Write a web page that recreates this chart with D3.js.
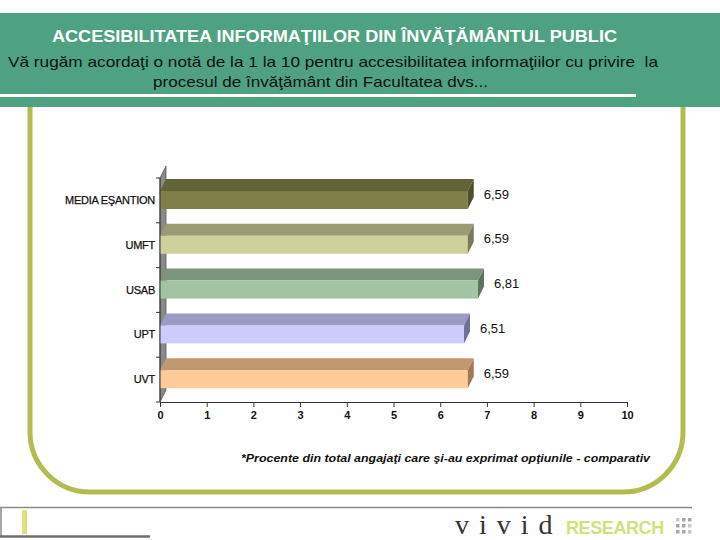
<!DOCTYPE html>
<html><head><meta charset="utf-8">
<script src="https://cdn.jsdelivr.net/npm/d3@7"></script>
<style>body{margin:0;background:#fff}svg{display:block}</style>
</head><body>
<svg id="chart" width="720" height="540"></svg>
<script>
const categories = ["MEDIA EŞANTION", "UMFT", "USAB", "UPT", "UVT"];
const values = [6.59, 6.59, 6.81, 6.51, 6.59];
const tickValues = [0,1,2,3,4,5,6,7,8,9,10];
const frontColors = ["#7f7f45", "#cfcf9b", "#a3c4a3", "#ccccfb", "#ffcc99"];
const topColors   = ["#636339", "#9a9a74", "#7b947b", "#9a9ac2", "#c29872"];
const sideColors  = ["#4e4f2c", "#7a7a58", "#5e745e", "#6f6f96", "#a07a58"];
const title = "ACCESIBILITATEA INFORMAŢIILOR DIN ÎNVĂŢĂMÂNTUL PUBLIC";
const subtitle1 = "Vă rugăm acordaţi o notă de la 1 la 10 pentru accesibilitatea informaţiilor cu privire  la";
const subtitle2 = "procesul de învăţământ din Facultatea dvs...";
const footnote = "*Procente din total angajaţi care şi-au exprimat opţiunile - comparativ";

const svg = d3.select("#chart");
const F = "Arial, 'Liberation Sans', sans-serif";

// header band
svg.append("rect").attr("x",0).attr("y",13).attr("width",720).attr("height",94).attr("fill","#4ea282");
svg.append("rect").attr("x",0).attr("y",94).attr("width",636).attr("height",3).attr("fill","#ffffff");
svg.append("text").attr("x",52).attr("y",42).attr("textLength",565).attr("lengthAdjust","spacingAndGlyphs")
  .attr("font-family",F).attr("font-size",16).attr("font-weight","bold").attr("fill","#fff").text(title);
svg.append("text").attr("x",8).attr("y",67).attr("textLength",650).attr("lengthAdjust","spacingAndGlyphs")
  .attr("font-family",F).attr("font-size",15).attr("fill","#111").style("white-space","pre").text(subtitle1);
svg.append("text").attr("x",153).attr("y",87).attr("textLength",335).attr("lengthAdjust","spacingAndGlyphs")
  .attr("font-family",F).attr("font-size",15).attr("fill","#111").text(subtitle2);

// frame
svg.append("path").attr("d","M30,107 V432 A60,60 0 0 0 90,492 H623 A60,60 0 0 0 683,432 V107")
  .attr("fill","none").attr("stroke","#b4bc50").attr("stroke-width",5);

// scales
const x = d3.scaleLinear().domain([0,10]).range([160,627]);
const y = d3.scaleBand().domain(categories).range([178,402]).padding(0);
const dx = 6, dy = 12, fh = 18, off = 13;

// wall
const g = svg.append("g");
g.append("polygon").attr("points",[[x(0),402],[x(0)+dx,402-dy],[x(0)+dx,178-dy],[x(0),178]].map(p=>p.join(",")).join(" "))
  .attr("fill","#8a8a8a").attr("stroke","#555").attr("stroke-width",0.8);

// bars
const bars = g.selectAll("g.bar").data(categories).enter().append("g");
bars.each(function(c,i){
  const sel = d3.select(this);
  const x0 = x(0), x1 = x(values[i]);
  const ft = y(c) + off;
  const pts = a => a.map(p=>p.join(",")).join(" ");
  sel.append("polygon").attr("points",pts([[x0,ft],[x0+dx,ft-dy],[x1+dx,ft-dy],[x1,ft]])).attr("fill",topColors[i]);
  sel.append("rect").attr("x",x0).attr("y",ft).attr("width",x1-x0).attr("height",fh).attr("fill",frontColors[i]);
  sel.append("polygon").attr("points",pts([[x1,ft],[x1+dx,ft-dy],[x1+dx,ft+fh-dy],[x1,ft+fh]])).attr("fill",sideColors[i]);
});

// value labels
const fmt = d3.formatLocale({decimal:",", thousands:".", grouping:[3], currency:["","€"]}).format(".2f");
g.selectAll("text.val").data(categories).enter().append("text")
  .attr("x",(c,i)=>x(values[i])+dx+10).attr("y",c=>y(c)+off+7.5)
  .attr("font-family",F).attr("font-size",13).attr("fill","#111")
  .text((c,i)=>fmt(values[i]));

// category labels
g.selectAll("text.cat").data(categories).enter().append("text")
  .attr("x",155).attr("y",c=>y(c)+off+fh/2+4).attr("text-anchor","end")
  .attr("font-family",F).attr("font-size",11).attr("letter-spacing",-0.25).attr("fill","#111")
  .attr("stroke","#111").attr("stroke-width",0.25)
  .text(c=>c);

// y axis line and ticks at band boundaries
const bounds = categories.map(c=>y(c)).concat([402]);
g.append("line").attr("x1",x(0)).attr("x2",x(0)).attr("y1",178).attr("y2",402).attr("stroke","#333").attr("stroke-width",1);
g.selectAll("line.yt").data(bounds).enter().append("line")
  .attr("x1",x(0)-4).attr("x2",x(0)).attr("y1",d=>d).attr("y2",d=>d).attr("stroke","#333");

// x axis
const xAxis = d3.axisBottom(x).tickValues(tickValues).tickSize(5).tickSizeOuter(0).tickPadding(4).tickFormat(d3.format("d"));
const ax = svg.append("g").attr("transform","translate(0,402)").call(xAxis);
ax.select(".domain").attr("stroke","#333").attr("stroke-width",1.2);
ax.selectAll(".tick line").attr("stroke","#333");
ax.selectAll(".tick text").attr("font-family",F).attr("font-size",11).attr("font-weight","bold").attr("fill","#111");

// footnote
svg.append("text").attr("x",241).attr("y",462).attr("textLength",409).attr("lengthAdjust","spacingAndGlyphs")
  .attr("font-family",F).attr("font-size",11.5).attr("font-weight","bold").attr("font-style","italic").attr("fill","#111")
  .text(footnote);

// footer
svg.append("line").attr("x1",0).attr("x2",692).attr("y1",507.5).attr("y2",507.5).attr("stroke","#8a8a8a").attr("stroke-width",1.5);
svg.append("line").attr("x1",1).attr("x2",1).attr("y1",507).attr("y2",537).attr("stroke","#8a8a8a").attr("stroke-width",1.5);
svg.append("line").attr("x1",0).attr("x2",150).attr("y1",536.5).attr("y2",536.5).attr("stroke","#6e6e6e").attr("stroke-width",2.5);
svg.append("rect").attr("x",22).attr("y",510).attr("width",5).attr("height",24).attr("fill","#dfe27a");
svg.append("text").attr("x",455).attr("y",534).attr("font-family","'Liberation Serif', 'Times New Roman', serif")
  .attr("font-size",28).attr("letter-spacing",10).attr("fill","#333").text("vivid");
svg.append("text").attr("x",566).attr("y",534).attr("font-family",F).attr("font-size",18).attr("font-weight","bold")
  .attr("letter-spacing",-0.4).attr("fill","#d3df7c").text("RESEARCH");
const dots = [[0,0],[1,0],[1,1],[2,1],[0,2],[1,2],[2,2],[0,1],[2,0]];
svg.selectAll("rect.dot").data(dots).enter().append("rect")
  .attr("x",d=>676+d[0]*6).attr("y",d=>518+d[1]*6).attr("width",3.5).attr("height",3.5)
  .attr("fill",(d,i)=>i%3===0?"#c8c8c8":"#a8a8a8");
</script>
</body></html>
